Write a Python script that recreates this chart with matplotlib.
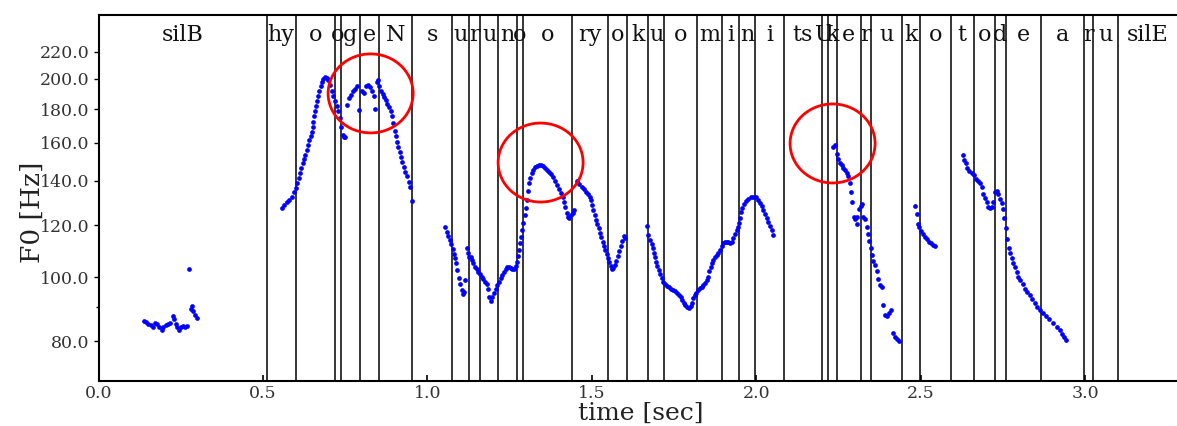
import matplotlib
matplotlib.use("Agg")
import matplotlib.pyplot as plt
from matplotlib.patches import Ellipse
from matplotlib.transforms import ScaledTranslation, blended_transform_factory
from matplotlib.ticker import FixedLocator, NullFormatter

plt.rcParams["font.family"] = "DejaVu Serif"

# F0 contour, one list pair per voiced stretch (time [s], F0 [Hz])
silb_t = [0.138, 0.144, 0.151, 0.158, 0.164, 0.171, 0.178, 0.184, 0.192, 0.197,
          0.205, 0.212, 0.217, 0.225, 0.229, 0.235, 0.239, 0.245, 0.249, 0.255,
          0.262, 0.268, 0.274, 0.280, 0.284, 0.288, 0.294, 0.298]
silb_f0 = [85.9, 85.5, 85.0, 84.6, 84.1, 85.3, 84.9, 84.0, 83.1, 84.1,
           84.6, 84.9, 85.3, 87.3, 86.3, 84.9, 84.0, 83.1, 84.0, 84.4,
           84.0, 84.4, 103.1, 89.4, 90.4, 88.8, 87.8, 86.8]

hyogen_t = [0.557, 0.564, 0.572, 0.580, 0.587, 0.594, 0.600, 0.604, 0.608, 0.612,
            0.616, 0.620, 0.624, 0.628, 0.633, 0.637, 0.641, 0.645, 0.648, 0.651,
            0.653, 0.656, 0.659, 0.662, 0.665, 0.668, 0.671, 0.675, 0.679, 0.683,
            0.688, 0.693, 0.698, 0.703, 0.709, 0.714, 0.719, 0.724, 0.729, 0.734,
            0.738, 0.742, 0.746, 0.750, 0.754, 0.760, 0.766, 0.772, 0.780, 0.787,
            0.793, 0.800, 0.807, 0.813, 0.819, 0.825, 0.831, 0.837, 0.840, 0.846,
            0.849, 0.853, 0.858, 0.864, 0.868, 0.873, 0.878, 0.883, 0.888, 0.892,
            0.896, 0.900, 0.904, 0.907, 0.911, 0.915, 0.919, 0.923, 0.928, 0.932,
            0.938, 0.943, 0.947, 0.952]
hyogen_f0 = [127.3, 128.5, 129.9, 131.0, 132.5, 134.5, 136.5, 138.8, 141.3, 143.9,
             146.4, 148.9, 151.0, 153.5, 156.0, 158.8, 161.6, 163.8, 166.3, 169.2,
             172.3, 175.4, 178.5, 181.7, 184.9, 188.1, 191.4, 194.9, 197.6, 200.0,
             201.5, 200.7, 199.0, 195.8, 191.4, 188.1, 184.9, 181.7, 178.5, 174.3,
             169.2, 164.4, 163.1, 163.4, 182.6, 187.0, 189.1, 191.4, 192.9, 194.9,
             179.1, 191.4, 190.3, 195.4, 195.8, 194.3, 191.4, 188.1, 179.9, 197.6,
             199.0, 194.9, 191.4, 189.8, 187.7, 185.5, 183.3, 181.3, 178.5, 175.7,
             171.2, 166.9, 163.8, 160.6, 157.8, 155.1, 152.4, 149.8, 147.2, 144.6,
             142.2, 139.6, 137.3, 130.6]

su_t = [1.053, 1.058, 1.063, 1.068, 1.072, 1.077, 1.081, 1.084, 1.088, 1.091,
        1.095, 1.099, 1.104, 1.107, 1.112, 1.115]
su_f0 = [119.0, 117.1, 115.5, 113.9, 112.2, 110.5, 108.5, 106.8, 105.0, 102.7,
         99.7, 97.6, 95.8, 94.3, 95.0, 99.0]

runo_t = [1.121, 1.124, 1.127, 1.131, 1.135, 1.139, 1.144, 1.150, 1.155, 1.160,
          1.165, 1.170, 1.175, 1.180, 1.184, 1.188, 1.192, 1.197, 1.202, 1.207,
          1.212, 1.217, 1.223, 1.228, 1.233, 1.238, 1.243, 1.248, 1.253, 1.258,
          1.263, 1.268, 1.272, 1.275, 1.278, 1.281, 1.284, 1.287, 1.291, 1.296,
          1.300, 1.304, 1.307, 1.310, 1.313, 1.317, 1.322, 1.328, 1.334, 1.340,
          1.346, 1.352, 1.358, 1.364, 1.370, 1.377, 1.383, 1.389, 1.395, 1.401,
          1.407, 1.411, 1.415, 1.419, 1.423, 1.427, 1.431, 1.436, 1.442, 1.447]
runo_f0 = [110.7, 109.0, 107.5, 107.2, 106.2, 105.0, 103.8, 102.8, 102.0, 101.2,
           100.2, 99.3, 98.5, 97.7, 95.9, 93.4, 92.1, 93.2, 94.6, 95.9,
           97.3, 98.5, 99.6, 100.8, 101.8, 102.8, 103.5, 103.7, 103.3, 102.9,
           103.0, 104.0, 105.5, 107.6, 110.0, 112.6, 115.0, 117.9, 121.0, 124.3,
           127.3, 131.0, 135.1, 139.1, 141.7, 143.9, 145.5, 147.0, 147.7, 148.0,
           147.9, 147.3, 146.4, 145.5, 144.4, 143.4, 142.0, 139.9, 138.0, 136.0,
           134.1, 132.3, 129.9, 127.9, 125.1, 123.6, 122.9, 124.2, 125.3, 126.5]

ryo_t = [1.456, 1.462, 1.469, 1.476, 1.482, 1.488, 1.493, 1.497, 1.501, 1.504,
         1.508, 1.512, 1.516, 1.521, 1.525, 1.529, 1.533, 1.537, 1.541, 1.545,
         1.549, 1.553, 1.557, 1.561, 1.565, 1.569, 1.573, 1.578, 1.583, 1.588,
         1.592, 1.597, 1.602]
ryo_f0 = [139.9, 138.6, 137.0, 135.9, 134.8, 133.8, 132.6, 130.8, 128.9, 126.5,
          124.3, 122.1, 120.4, 118.6, 116.6, 115.0, 113.3, 111.6, 110.0, 108.5,
          107.0, 105.5, 104.0, 102.8, 103.2, 104.3, 105.9, 107.7, 109.7, 111.6,
          113.7, 115.5, 114.7]

uomini_t = [1.667, 1.672, 1.677, 1.682, 1.685, 1.689, 1.692, 1.695, 1.699, 1.703,
            1.707, 1.712, 1.717, 1.723, 1.729, 1.735, 1.741, 1.748, 1.754, 1.760,
            1.766, 1.771, 1.775, 1.779, 1.783, 1.788, 1.794, 1.800, 1.804, 1.808,
            1.813, 1.818, 1.823, 1.828, 1.834, 1.839, 1.844, 1.849, 1.854, 1.857,
            1.861, 1.865, 1.869, 1.874, 1.880, 1.884, 1.890, 1.895, 1.900, 1.905,
            1.910, 1.915, 1.920, 1.925, 1.930, 1.935, 1.940, 1.944, 1.948, 1.950,
            1.953, 1.957, 1.963, 1.969, 1.976, 1.983, 1.991, 1.999, 2.006, 2.011,
            2.016, 2.021, 2.026, 2.032, 2.036, 2.042, 2.047, 2.050]
uomini_f0 = [119.6, 115.9, 113.9, 112.3, 110.6, 109.0, 107.2, 105.6, 104.0, 102.5,
             101.2, 99.6, 98.5, 97.7, 97.0, 96.6, 96.0, 95.6, 95.3, 94.7,
             94.0, 93.2, 92.3, 91.5, 90.7, 90.2, 89.9, 90.4, 91.5, 92.9,
             94.0, 94.7, 95.6, 96.2, 96.7, 97.4, 98.1, 99.0, 100.2, 102.2,
             103.6, 105.1, 106.2, 107.2, 108.1, 109.0, 110.0, 111.6, 112.6, 113.3,
             113.1, 113.1, 112.9, 113.3, 114.6, 116.3, 117.9, 119.3, 121.0, 122.9,
             125.6, 127.5, 129.2, 130.4, 131.4, 132.2, 132.5, 132.2, 131.0, 129.5,
             128.1, 126.5, 124.9, 123.1, 121.4, 119.8, 117.9, 116.0]

keru_t = [2.234, 2.239, 2.245, 2.249, 2.255, 2.260, 2.265, 2.270, 2.275, 2.280,
          2.285, 2.288, 2.292, 2.297, 2.301, 2.305, 2.307, 2.313, 2.318, 2.321,
          2.325, 2.330, 2.336, 2.341, 2.344, 2.348, 2.352, 2.356, 2.361, 2.366,
          2.371, 2.376, 2.382, 2.386, 2.392, 2.398, 2.405, 2.409, 2.417, 2.423,
          2.429, 2.435]
keru_f0 = [157.9, 158.8, 153.9, 151.0, 149.3, 148.0, 146.7, 145.5, 144.2, 142.5,
           139.1, 134.5, 129.9, 123.3, 122.4, 123.3, 120.6, 126.8, 128.2, 129.1,
           123.3, 122.4, 119.2, 116.3, 113.6, 110.8, 108.0, 105.9, 104.2, 102.1,
           99.4, 97.3, 96.6, 90.8, 87.6, 87.2, 88.2, 89.1, 82.4, 81.3,
           80.5, 80.1]

ko_t = [2.483, 2.488, 2.493, 2.496, 2.500, 2.506, 2.512, 2.518, 2.524, 2.530,
        2.536, 2.543]
ko_f0 = [128.2, 124.9, 120.4, 119.0, 117.6, 116.3, 115.2, 114.2, 113.3, 112.7,
         112.0, 111.4]

todea_t = [2.628, 2.632, 2.638, 2.642, 2.648, 2.655, 2.662, 2.668, 2.675, 2.680,
           2.686, 2.690, 2.696, 2.701, 2.706, 2.711, 2.716, 2.721, 2.726, 2.731,
           2.736, 2.741, 2.746, 2.749, 2.753, 2.759, 2.763, 2.768, 2.772, 2.777,
           2.782, 2.787, 2.792, 2.797, 2.802, 2.810, 2.817, 2.824, 2.832, 2.840,
           2.848, 2.855, 2.863, 2.871, 2.881, 2.891, 2.903, 2.914, 2.924, 2.930,
           2.936, 2.942]
todea_f0 = [153.3, 150.6, 148.9, 146.4, 144.8, 144.0, 142.7, 141.1, 140.0, 138.9,
            136.9, 133.8, 131.9, 130.1, 127.9, 127.2, 127.9, 130.1, 134.6, 135.3,
            133.8, 131.6, 129.4, 126.9, 122.8, 118.6, 114.4, 110.8, 108.8, 106.8,
            105.1, 103.6, 101.8, 100.0, 98.9, 97.6, 96.1, 95.0, 94.0, 92.6,
            91.3, 90.2, 89.2, 88.2, 87.3, 86.3, 85.1, 84.1, 83.1, 82.0,
            81.2, 80.3]

# phoneme segmentation
phone_bounds = [0.511, 0.599, 0.719, 0.736, 0.794, 0.853, 0.952, 1.075, 1.127, 1.160,
                1.215, 1.272, 1.290, 1.438, 1.550, 1.608, 1.672, 1.720, 1.820, 1.896,
                1.948, 1.996, 2.083, 2.200, 2.217, 2.246, 2.317, 2.350, 2.444, 2.499,
                2.591, 2.662, 2.725, 2.760, 2.866, 2.996, 3.025, 3.100]
phone_labels = ["silB", "hy", "o", "o", "g", "e", "N", "s", "u", "r",
                "u", "n", "o", "o", "ry", "o", "k", "u", "o", "m",
                "i", "n", "i", "ts", "U", "k", "e", "r", "u", "k",
                "o", "t", "o", "d", "e", "a", "r", "u", "silE"]
utt_end = 3.28

# highlighted regions (red circles)
circle_t = [0.827, 1.344, 2.232]
circle_f0 = [190.1, 149.3, 159.6]

yticks = [80, 100, 120, 140, 160, 180, 200, 220]
xticks = [0.0, 0.5, 1.0, 1.5, 2.0, 2.5, 3.0]

fig = plt.figure(figsize=(11.77, 4.26), dpi=100)
ax = fig.add_axes([98.7 / 1177, 45 / 426, 3.30 * 328.8 / 1177, 366 / 426])

segments = [(silb_t, silb_f0), (hyogen_t, hyogen_f0), (su_t, su_f0),
            (runo_t, runo_f0), (ryo_t, ryo_f0), (uomini_t, uomini_f0),
            (keru_t, keru_f0), (ko_t, ko_f0), (todea_t, todea_f0)]
for t, f in segments:
    ax.plot(t, f, "o", ls="none", color="#0000ff", ms=3.4, mec="none", zorder=3)

for b in phone_bounds:
    ax.axvline(b, color="black", lw=1.1, zorder=1)

edges = [0.0] + phone_bounds + [utt_end]
trans = blended_transform_factory(ax.transData, ax.transAxes)
for i, lab in enumerate(phone_labels):
    mid = (edges[i] + edges[i + 1]) / 2
    ax.text(mid, 0.929, lab, transform=trans, ha="center", va="baseline",
            fontsize=16, color="#111111", zorder=2)

for t, f in zip(circle_t, circle_f0):
    tr = fig.dpi_scale_trans + ScaledTranslation(t, f, ax.transData)
    ax.add_patch(Ellipse((0, 0), 0.85, 0.79, transform=tr, fill=False,
                         ec="red", lw=2.0, zorder=4))

ax.set_yscale("log")
ax.yaxis.set_major_locator(FixedLocator(yticks))
ax.set_yticklabels(["%.1f" % v for v in yticks])
ax.yaxis.set_minor_locator(FixedLocator([90]))
ax.yaxis.set_minor_formatter(NullFormatter())
ax.set_xticks(xticks)
ax.set_xticklabels(["%.1f" % v for v in xticks])

ax.tick_params(axis="y", which="major", direction="out", length=3.5, width=1,
               pad=3, labelsize=12.5, labelcolor="#333333")
ax.tick_params(axis="y", which="minor", direction="out", length=2.5, width=1)
ax.tick_params(axis="x", direction="in", length=4, width=1.2, pad=3,
               labelsize=12.5, labelcolor="#333333")

for s in ax.spines.values():
    s.set_linewidth(1.5)
ax.spines["right"].set_visible(False)

ax.set_ylabel("F0 [Hz]", fontsize=19, color="#222222")
ax.yaxis.set_label_coords(-0.050, 0.462)
ax.set_xlabel("time [sec]", fontsize=18, color="#222222")
ax.xaxis.set_label_coords(0.5, -0.056)

ax.set_xlim(0, 3.30)
ax.set_ylim(69.6, 250)

fig.savefig("out.png", dpi=100)
